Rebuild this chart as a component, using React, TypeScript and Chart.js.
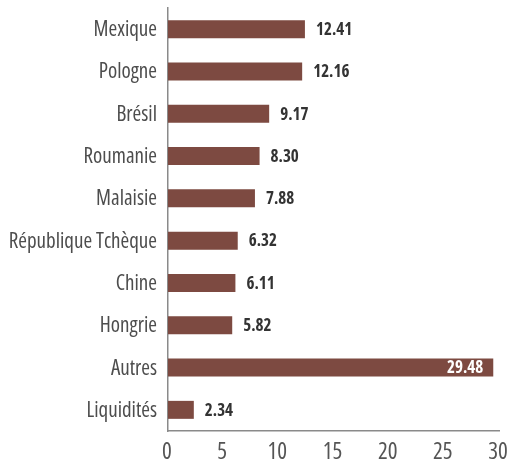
import React, { useEffect, useRef } from "react";
import { Chart, registerables } from "chart.js";

Chart.register(...registerables);

const categories = [
  "Mexique",
  "Pologne",
  "Brésil",
  "Roumanie",
  "Malaisie",
  "République Tchèque",
  "Chine",
  "Hongrie",
  "Autres",
  "Liquidités",
];
const values = [12.41, 12.16, 9.17, 8.3, 7.88, 6.32, 6.11, 5.82, 29.48, 2.34];
const xTicks = [0, 5, 10, 15, 20, 25, 30];

const FAMILY = "'Open Sans', sans-serif";

const valueLabels = {
  id: "valueLabels",
  afterDatasetsDraw(chart: any) {
    const ctx = chart.ctx;
    const meta = chart.getDatasetMeta(0);
    const xScale = chart.scales.x;
    ctx.save();
    ctx.font = `condensed bold 17px ${FAMILY}`;
    ctx.textBaseline = "middle";
    meta.data.forEach((bar: any, i: number) => {
      const txt = values[i].toFixed(2);
      const w = ctx.measureText(txt).width;
      if (bar.x + 11 + w > xScale.right) {
        ctx.fillStyle = "#ffffff";
        ctx.textAlign = "right";
        ctx.fillText(txt, bar.x - 10, bar.y + 1);
      } else {
        ctx.fillStyle = "#333333";
        ctx.textAlign = "left";
        ctx.fillText(txt, bar.x + 11, bar.y + 1);
      }
    });
    ctx.restore();
  },
};

export default function App() {
  const ref = useRef<HTMLCanvasElement | null>(null);
  useEffect(() => {
    document.body.style.margin = "0";
    if (!ref.current) return;
    const chart = new Chart(ref.current, {
      type: "bar",
      data: {
        labels: categories,
        datasets: [
          {
            data: values,
            backgroundColor: "#7d4a41",
            categoryPercentage: 1,
            barPercentage: 0.425,
          },
        ],
      },
      options: {
        indexAxis: "y",
        animation: false,
        responsive: false,
        maintainAspectRatio: false,
        layout: { padding: { top: 8, right: 14, bottom: 0, left: 0 } },
        plugins: {
          legend: { display: false },
          tooltip: { enabled: false },
        },
        scales: {
          x: {
            min: 0,
            max: 30,
            afterBuildTicks: (s: any) => {
              s.ticks = xTicks.map((v) => ({ value: v }));
            },
            afterFit: (s: any) => {
              s.height = 31;
              s.paddingLeft = 0;
              s.paddingRight = 0;
            },
            grid: { display: false, drawTicks: false },
            border: { display: true, color: "#8a8a8a", width: 1.5 },
            ticks: {
              color: "#555555",
              font: { family: FAMILY, size: 23, weight: "condensed" as any },
              padding: 8,
              labelOffset: -1,
            },
          },
          y: {
            grid: { display: false, drawTicks: false },
            border: { display: true, color: "#8a8a8a", width: 1.5 },
            afterFit: (s: any) => {
              s.width = 168;
              s.paddingTop = 0;
              s.paddingBottom = 0;
            },
            ticks: {
              color: "#4d4d4d",
              font: { family: FAMILY, size: 21, weight: "condensed" as any },
              padding: 11,
              labelOffset: 1,
            },
          },
        },
      },
      plugins: [valueLabels],
    });
    return () => chart.destroy();
  }, []);
  return (
    <div style={{ width: 513, height: 462 }}>
      <canvas ref={ref} width={513} height={462} style={{ display: "block" }} />
    </div>
  );
}
